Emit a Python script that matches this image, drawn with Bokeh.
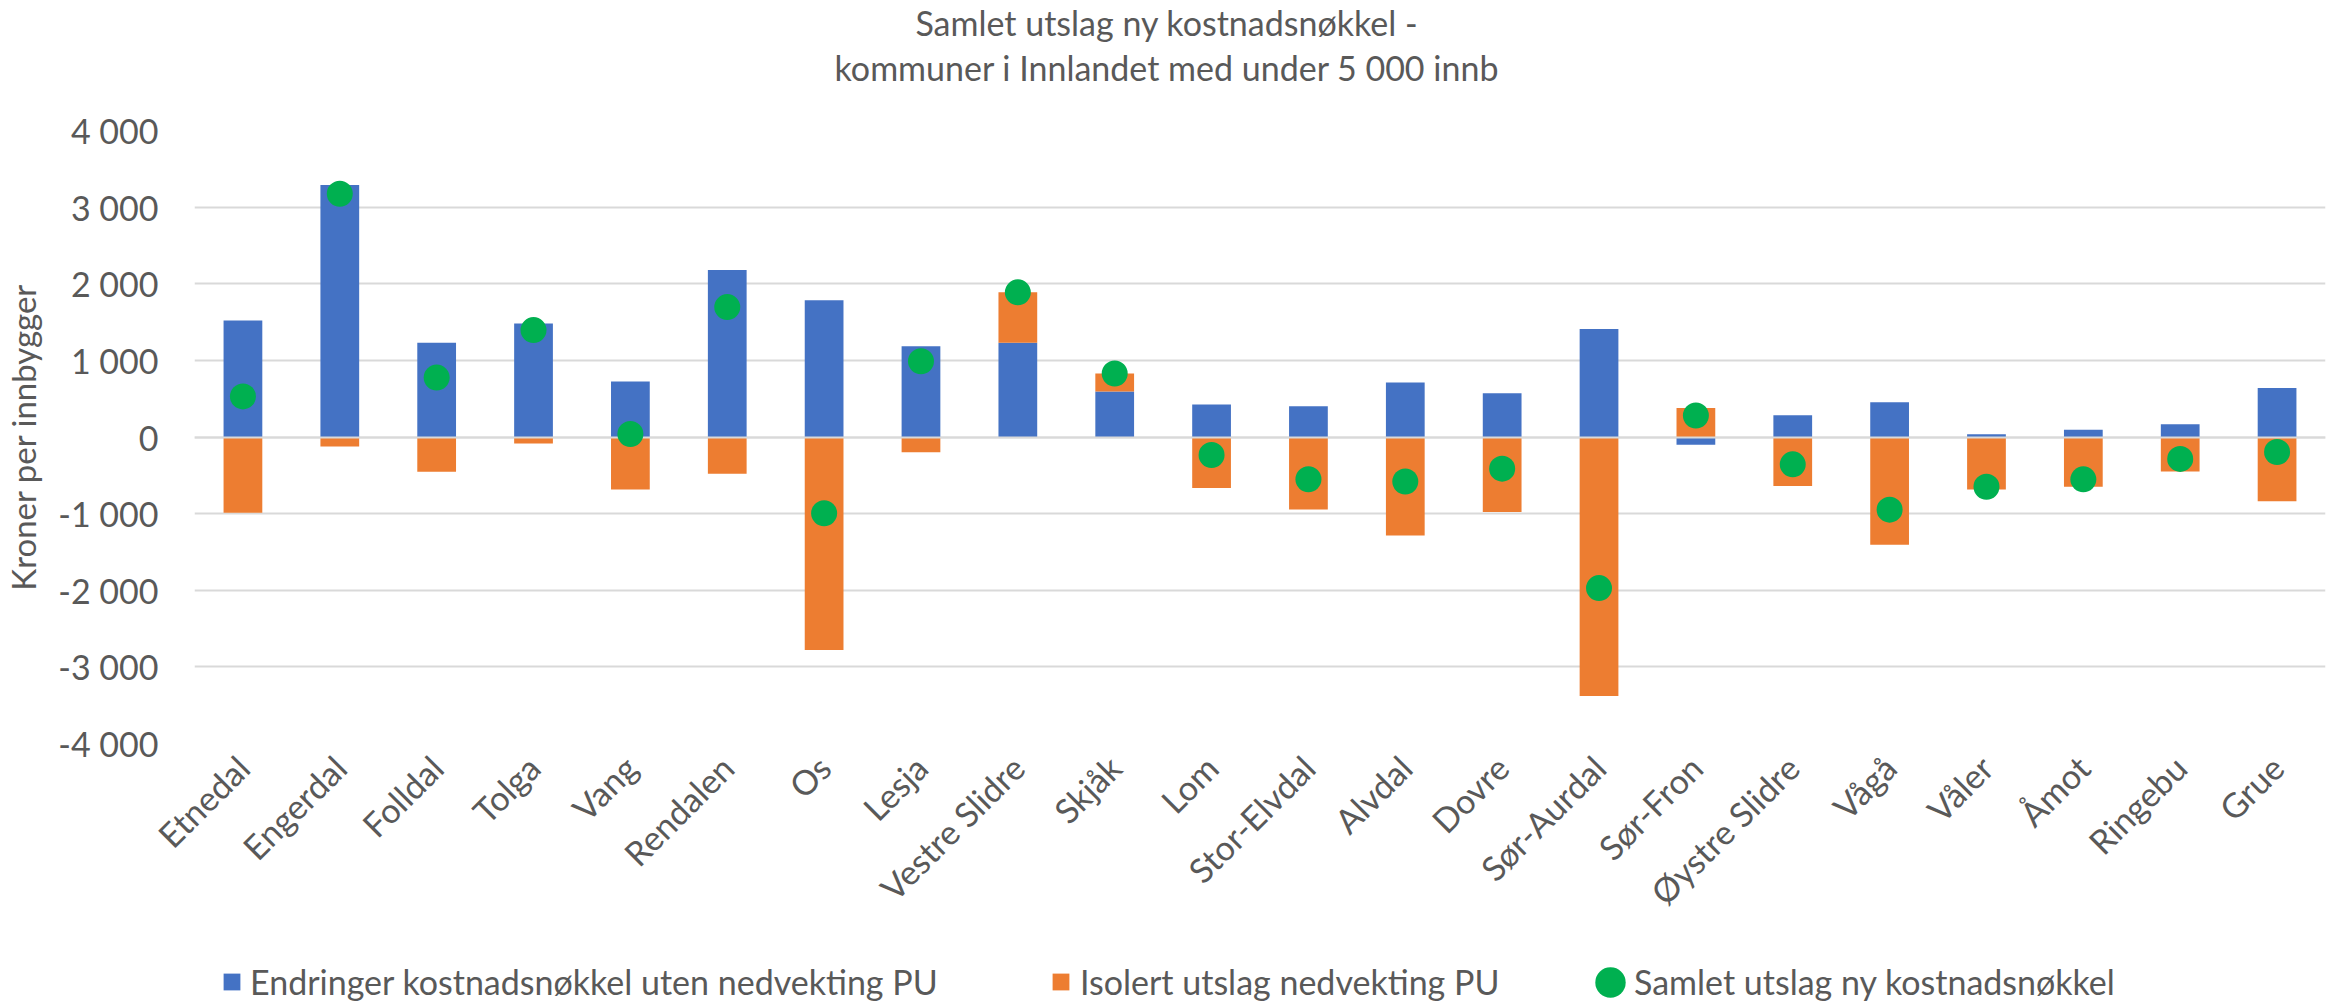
import math
from bokeh.plotting import figure
from bokeh.layouts import column
from bokeh.models import (FactorRange, Range1d, FixedTicker, Legend, LegendItem,
                          ColumnDataSource, Div)
from bokeh.embed import file_html
from bokeh.resources import INLINE

# ---------------- data ----------------
municipalities = ["Etnedal", "Engerdal", "Folldal", "Tolga", "Vang", "Rendalen", "Os",
                  "Lesja", "Vestre Slidre", "Skjåk", "Lom", "Stor-Elvdal", "Alvdal",
                  "Dovre", "Sør-Aurdal", "Sør-Fron", "Øystre Slidre", "Vågå", "Våler",
                  "Åmot", "Ringebu", "Grue"]
endringer = [1520, 3290, 1230, 1480, 725, 2180, 1785, 1185, 1230, 595, 425, 400, 710,
             570, 1410, -100, 285, 455, 35, 95, 165, 640]
isolert = [-990, -125, -455, -85, -685, -480, -2780, -200, 660, 235, -665, -945, -1285,
           -980, -3380, 380, -640, -1405, -685, -650, -450, -840]
samlet = [530, 3175, 775, 1395, 40, 1695, -995, 988, 1888, 828, -235, -552, -580, -413,
          -1972, 280, -357, -948, -650, -553, -286, -196]

series_names = ["Endringer kostnadsnøkkel uten nedvekting PU",
                "Isolert utslag nedvekting PU",
                "Samlet utslag ny kostnadsnøkkel"]
title_lines = ["Samlet utslag ny kostnadsnøkkel -",
               "kommuner i Innlandet med under 5 000 innb"]
y_axis_title = "Kroner per innbygger"
y_ticks = [-4000, -3000, -2000, -1000, 0, 1000, 2000, 3000, 4000]
y_tick_labels = ["-4 000", "-3 000", "-2 000", "-1 000", "0", "1 000", "2 000", "3 000", "4 000"]

# ---------------- style ----------------
BLUE = "#4472C4"
ORANGE = "#ED7D31"
GREEN = "#00B050"
TEXT = "#595959"
GRID = "#D9D9D9"
FONT = "Lato"

# Excel-like stacking: positives stack upward, negatives downward
def stack(series_list):
    n = len(series_list[0])
    pos = [0.0] * n
    neg = [0.0] * n
    out = []
    for s in series_list:
        b_list, t_list = [], []
        for i, v in enumerate(s):
            if v >= 0:
                b = pos[i]; t = b + v; pos[i] = t
            else:
                b = neg[i]; t = b + v; neg[i] = t
            b_list.append(b); t_list.append(t)
        out.append((b_list, t_list))
    return out

(stack_blue, stack_orange) = stack([endringer, isolert])

W = 2333
TITLE_H = 108
LEGEND_H = 54
MAIN_H = 1004 - TITLE_H - LEGEND_H
FRAME_LEFT = 190

title_div = Div(
    text=("<div style='width:%dpx;text-align:center;font-family:Lato;font-size:34px;"
          "color:%s;line-height:45px;'>%s<br>%s</div>") % (W, TEXT, title_lines[0], title_lines[1]),
    width=W, height=TITLE_H, margin=(0, 0, 0, 0))

p = figure(x_range=FactorRange(*municipalities, range_padding=0),
           y_range=Range1d(y_ticks[0], y_ticks[-1]),
           width=W, height=MAIN_H, title=None,
           output_backend="svg", toolbar_location=None,
           min_border_left=FRAME_LEFT, min_border_right=8,
           min_border_top=22, min_border_bottom=MAIN_H - 22 - 613, margin=(0, 0, 0, 0))
p.outline_line_color = None
p.background_fill_color = "white"
p.border_fill_color = "white"

src_b = ColumnDataSource(dict(x=municipalities, bottom=stack_blue[0], top=stack_blue[1]))
src_o = ColumnDataSource(dict(x=municipalities, bottom=stack_orange[0], top=stack_orange[1]))
src_s = ColumnDataSource(dict(x=municipalities, y=samlet))

p.vbar(x="x", bottom="bottom", top="top", width=0.4, source=src_b,
       fill_color=BLUE, line_color=None)
p.vbar(x="x", bottom="bottom", top="top", width=0.4, source=src_o,
       fill_color=ORANGE, line_color=None)
p.hspan(y=[0], line_color=GRID, line_width=2)
p.scatter(x="x", y="y", source=src_s, size=26, fill_color=GREEN,
          line_color=None, marker="circle")

# grid
p.xgrid.grid_line_color = None
p.ygrid.grid_line_color = GRID
p.ygrid.grid_line_width = 2

# y axis
p.yaxis.ticker = FixedTicker(ticks=y_ticks)
p.yaxis.major_label_overrides = {t: l for t, l in zip(y_ticks, y_tick_labels)}
p.yaxis.axis_line_color = None
p.yaxis.major_tick_line_color = None
p.yaxis.minor_tick_line_color = None
p.yaxis.major_tick_out = 0
p.yaxis.major_tick_in = 0
p.yaxis.major_label_standoff = 36
p.yaxis.major_label_text_font = FONT
p.yaxis.major_label_text_font_size = "34px"
p.yaxis.major_label_text_color = TEXT
p.yaxis.axis_label = y_axis_title
p.yaxis.axis_label_text_font = FONT
p.yaxis.axis_label_text_font_style = "normal"
p.yaxis.axis_label_text_font_size = "33px"
p.yaxis.axis_label_text_color = TEXT
p.yaxis.axis_label_standoff = 12

# x axis
p.xaxis.axis_line_color = None
p.xaxis.major_tick_line_color = None
p.xaxis.major_tick_out = 0
p.xaxis.major_tick_in = 0
p.xaxis.major_label_orientation = math.pi / 4
p.xaxis.major_label_standoff = 18
p.xaxis.major_label_text_font = FONT
p.xaxis.major_label_text_font_size = "34px"
p.xaxis.major_label_text_color = TEXT

# ---------------- legend strip ----------------
lg = figure(width=W, height=LEGEND_H, x_range=Range1d(0, 1), y_range=Range1d(0, 1),
            output_backend="svg", toolbar_location=None, title=None,
            x_axis_type=None, y_axis_type=None, min_border=0, margin=(0, 0, 0, 0))
lg.outline_line_color = None
lg.xgrid.visible = False
lg.ygrid.visible = False
# legend proxies: one point each, placed outside the visible strip, so only the swatch shows
lr_blue = lg.vbar(x=[-5], top=[-5], bottom=[-6], width=0.4, fill_color=BLUE, line_color=None)
lr_orange = lg.vbar(x=[-5], top=[-5], bottom=[-6], width=0.4, fill_color=ORANGE, line_color=None)
lr_dot = lg.scatter(x=[-5], y=[-5], size=26, fill_color=GREEN, line_color=None, marker="circle")

CENTER_Y = 22  # legend row centre, px above the strip bottom


def add_legend(label, rend, left_px, gsize, standoff):
    h = max(gsize, 40)
    leg = Legend(items=[LegendItem(label=label, renderers=[rend])],
                 location=(left_px - FRAME_LEFT, CENTER_Y - h // 2), orientation="horizontal",
                 padding=0, margin=0, border_line_color=None, background_fill_alpha=0,
                 glyph_width=gsize, glyph_height=gsize, label_standoff=standoff,
                 label_text_font=FONT, label_text_font_size="34px",
                 label_text_color=TEXT, label_height=40)
    lg.add_layout(leg)


add_legend(series_names[0], lr_blue, 217, 21, 8)
add_legend(series_names[1], lr_orange, 1046, 21, 9)
# green: large swatch box (marker size scales with the box), text placed separately
add_legend(" ", lr_dot, 1568, 76, 0)
add_legend(series_names[2], lr_dot, 1627, 1, 2)

layout = column(title_div, p, lg, spacing=0, margin=(0, 0, 0, 0))
open("out.html", "w").write(file_html(layout, INLINE))
